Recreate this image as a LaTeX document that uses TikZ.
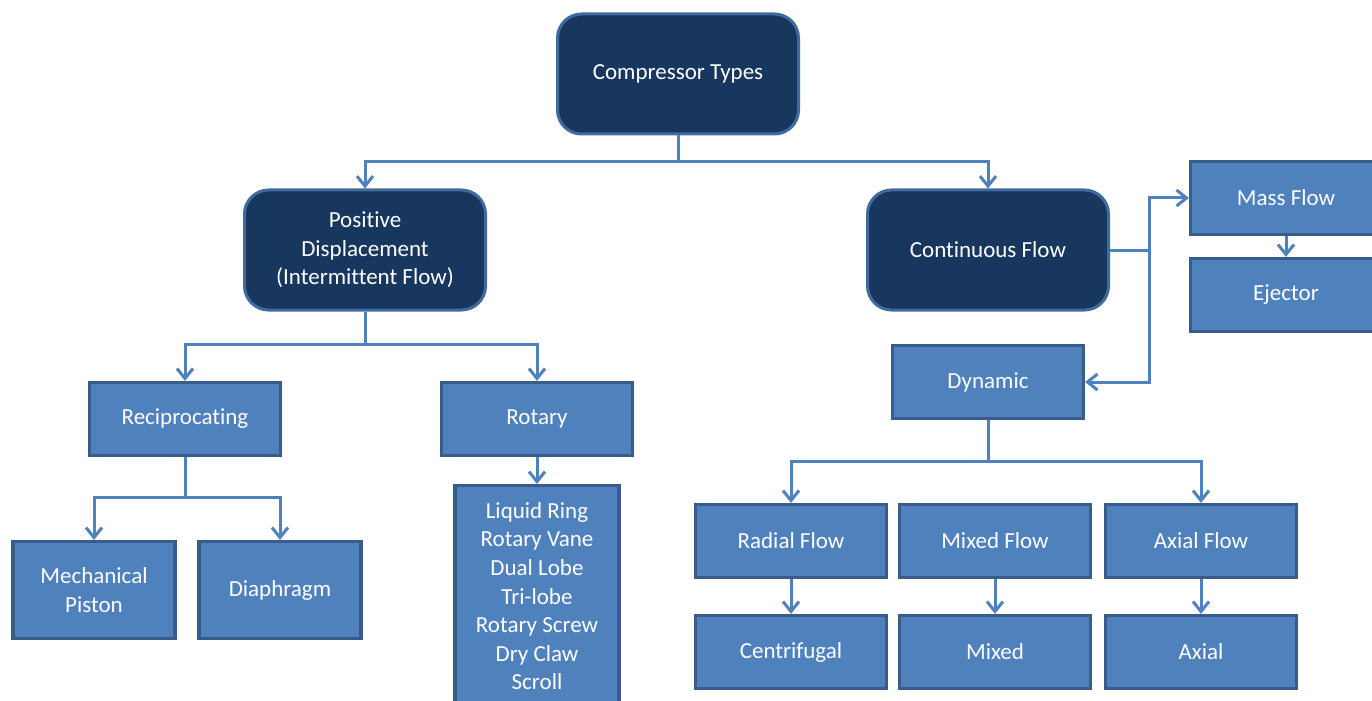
\documentclass[tikz,border=0pt]{standalone}
\usepackage{fontspec}
\setmainfont[Ligatures=NoCommon]{Carlito}
\usepackage{xcolor}
\usetikzlibrary{arrows.meta,positioning}
\definecolor{navy}{HTML}{17375E}
\definecolor{midblue}{HTML}{4F81BD}
\definecolor{edgeblue}{HTML}{385D8A}

\begin{document}
\begin{tikzpicture}[x=0.5pt,y=-0.5pt,>={Straight Barb[length=5pt,width=8pt]},
  topbox/.style={draw=edgeblue!60!midblue,line width=1.5pt,fill=navy,rounded corners=12pt,text=white,align=center,minimum width=120.5pt,minimum height=60pt,font=\fontsize{11.5}{14.3}\selectfont},
  subbox/.style={draw=edgeblue,line width=1.6pt,fill=midblue,text=white,align=center,minimum width=95.5pt,minimum height=36.5pt,font=\fontsize{11.5}{14.3}\selectfont},
  link/.style={midblue,line width=1.5pt}]
\clip (0,0) rectangle (1372,701);
% Top level
\node[topbox] (types) at (678,74) {Compressor Types};
\node[topbox] (posdisp) at (365,250) {Positive\\Displacement\\(Intermittent Flow)};
\node[topbox] (contflow) at (988,250) {Continuous Flow};
\draw[link,->] (types.south) -- ++(0,26) -| (posdisp.north);
\draw[link,->] (types.south) -- ++(0,26) -| (contflow.north);
% Positive displacement
\node[subbox] (recip) at (185,419) {Reciprocating};
\node[subbox] (rotary) at (537,419) {Rotary};
\draw[link,->] (posdisp.south) -- ++(0,33) -| (recip.north);
\draw[link,->] (posdisp.south) -- ++(0,33) -| (rotary.north);
\node[subbox,minimum width=81pt,minimum height=48.5pt] (piston) at (94,590) {Mechanical\\Piston};
\node[subbox,minimum width=81pt,minimum height=48.5pt] (diaphragm) at (280,590) {Diaphragm};
\draw[link,->] (recip.south) -- ++(0,40) -| (piston.north);
\draw[link,->] (recip.south) -- ++(0,40) -| (diaphragm.north);
\node[subbox,anchor=north,minimum width=82pt,minimum height=110.5pt] (rotlist) at (537,484)
  {Liquid Ring\\Rotary Vane\\Dual Lobe\\Tri-lobe\\Rotary Screw\\Dry Claw\\Scroll};
\draw[link,->] (rotary.south) -- (rotlist.north);
% Continuous flow
\node[subbox] (massflow) at (1286,198) {Mass Flow};
\node[subbox] (ejector) at (1286,295) {Ejector};
\node[subbox] (dynamic) at (988,382) {Dynamic};
\draw[link,->] (contflow.east) -- ++(39,0) |- (massflow.west);
\draw[link,->] (contflow.east) -- ++(39,0) |- (dynamic.east);
\draw[link,->] (massflow.south) -- (ejector.north);
% Dynamic
\node[subbox] (radial) at (791,541) {Radial Flow};
\node[subbox] (mixedflow) at (995,541) {Mixed Flow};
\node[subbox] (axialflow) at (1201,541) {Axial Flow};
\draw[link,->] (dynamic.south) -- ++(0,41) -| (radial.north);
\draw[link,->] (dynamic.south) -- ++(0,41) -| (axialflow.north);
\node[subbox] (centrif) at (791,652) {Centrifugal};
\node[subbox] (mixed) at (995,652) {Mixed};
\node[subbox] (axial) at (1201,652) {Axial};
\draw[link,->] (radial.south) -- (centrif.north);
\draw[link,->] (mixedflow.south) -- (mixed.north);
\draw[link,->] (axialflow.south) -- (axial.north);
\end{tikzpicture}
\end{document}
